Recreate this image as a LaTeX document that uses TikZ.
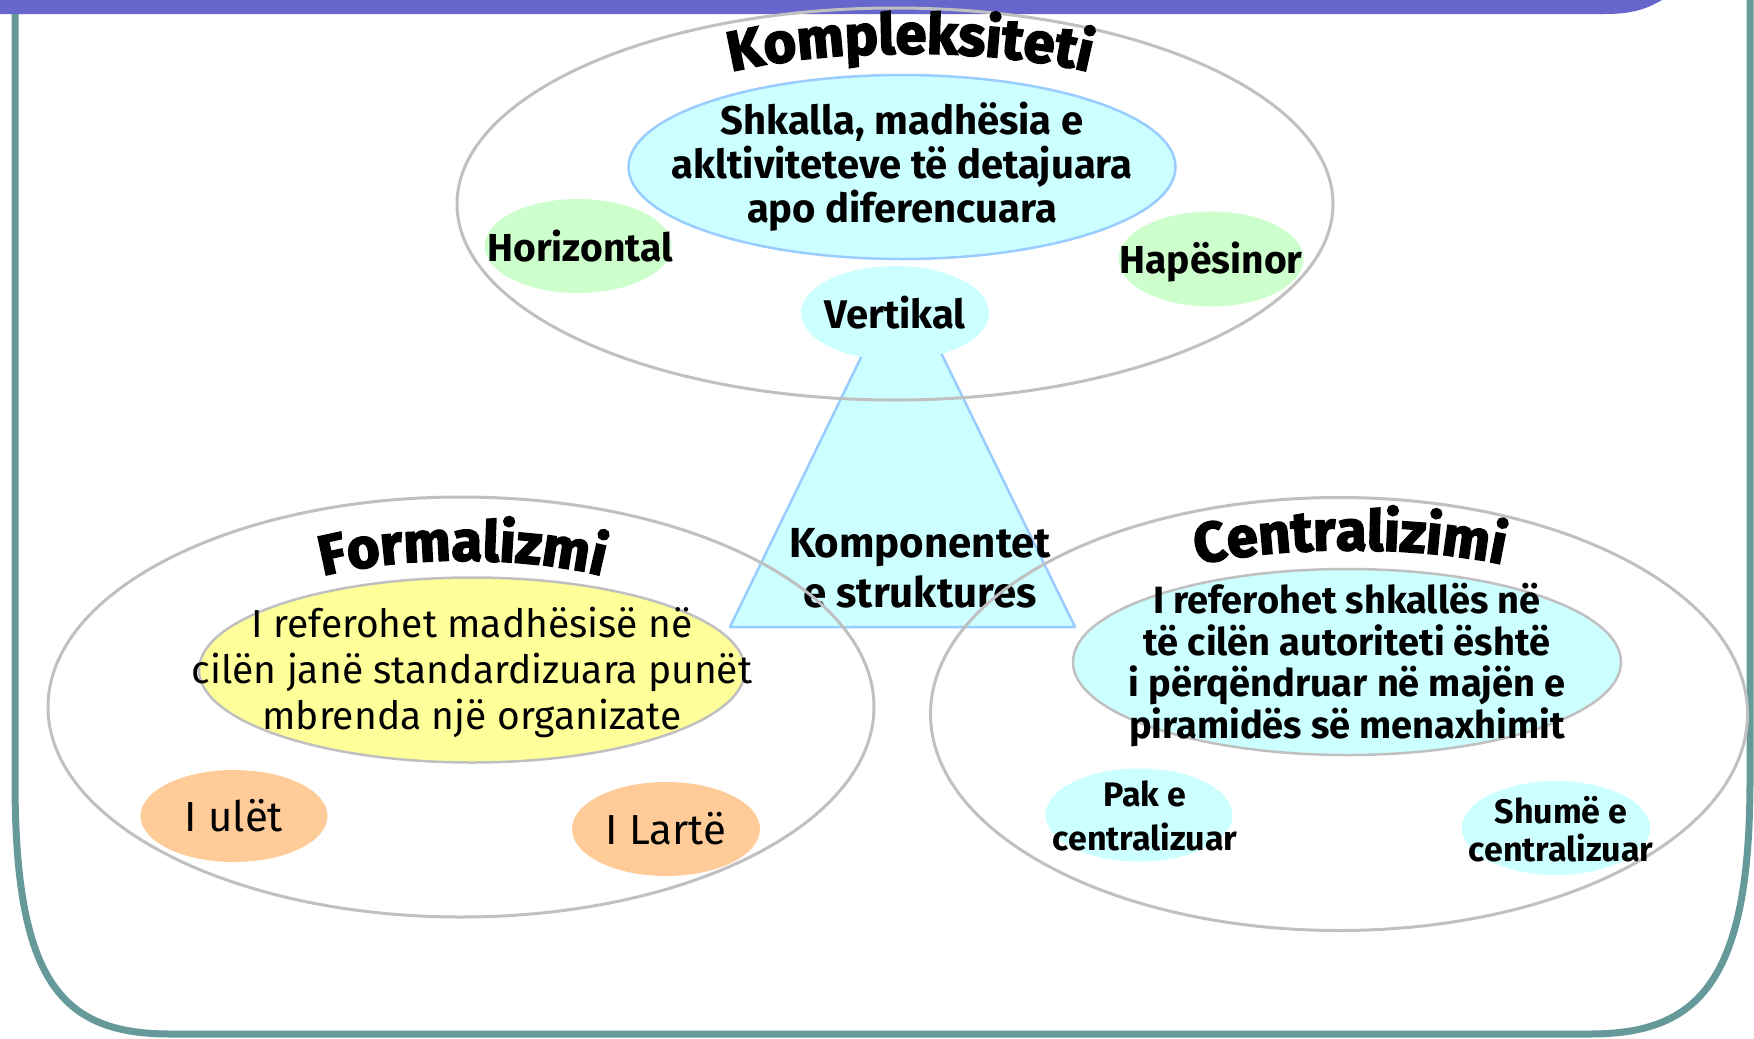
\documentclass[tikz,border=0pt]{standalone}
\usepackage{fontspec}
\setmainfont{Fira Sans}
\newfontfamily\titlefont{Fira Sans Bold}[FakeBold=3]
\usetikzlibrary{shapes.geometric,decorations.text}

\definecolor{barblue}{HTML}{6666CC}
\definecolor{frameteal}{HTML}{669999}
\definecolor{ringgray}{HTML}{C0C0C0}
\definecolor{paleblue}{HTML}{CCFFFF}
\definecolor{edgeblue}{HTML}{99CCFF}
\definecolor{palegreen}{HTML}{CCFFCC}
\definecolor{paleyellow}{HTML}{FFFF99}
\definecolor{paleorange}{HTML}{FFCC99}

\newcommand\ttlfont{\titlefont\fontsize{56pt}{60pt}\selectfont}

\tikzset{
  ring/.style={ellipse, draw=ringgray, line width=3pt, inner sep=0pt},
  blob/.style={ellipse, inner sep=0pt, draw=none},
  bold40/.style={align=center, inner sep=0pt, font=\bfseries\fontsize{40pt}{44pt}\selectfont},
  bold34/.style={align=center, inner sep=0pt, font=\bfseries\fontsize{34pt}{44pt}\selectfont},
  plain40/.style={align=center, inner sep=0pt, font=\fontsize{39pt}{46pt}\selectfont},
  title/.style={decorate, decoration={text along path, text align=center}},
}

\begin{document}
\begin{tikzpicture}[x=1pt, y=-1pt]
\useasboundingbox (0,0) rectangle (1754,1039);

% slide frame and header bar
\draw[frameteal, line width=7pt]
  (15,0) -- (15,780) .. controls (15,980) and (60,1034) .. (170,1034)
  -- (1590,1034) .. controls (1700,1034) and (1750,980) .. (1750,780) -- (1750,0);
\fill[barblue] (0,-5) -- (1662,-5) -- (1662,0) .. controls (1645,10) and (1630,14) .. (1605,14) -- (0,14) -- cycle;

% central pyramid
\coordinate (apex) at (902,273);
\coordinate (baseL) at (730,627);
\coordinate (baseR) at (1075,627);
\filldraw[fill=paleblue, draw=edgeblue, line width=2.5pt, line join=round]
  (apex) -- (baseL) -- (baseR) -- cycle;
\node[bold40, font=\bfseries\fontsize{42pt}{50pt}\selectfont] (komp) at (920,568) {Komponentet\\ e struktures};

% three outer rings
\node[ring, minimum width=876pt, minimum height=392pt] (ringK) at (895,204) {};
\node[ring, minimum width=826pt, minimum height=420pt] (ringF) at (461,707) {};
\node[ring, minimum width=817pt, minimum height=433pt] (ringC) at (1339,714) {};

% Kompleksiteti
\node[blob, fill=paleblue, draw=edgeblue, line width=2.5pt, minimum width=547pt, minimum height=184pt] (shk) at (902,167) {};
\node[bold40] (shkT) at (shk) {Shkalla, madhësia e\\ akltiviteteve të detajuara\\ apo diferencuara};
\node[blob, fill=palegreen, minimum width=187pt, minimum height=94pt] (hor) at (578,246) {};
\node[bold40, font=\bfseries\fontsize{39pt}{44pt}\selectfont] (horT) at (580,246) {Horizontal};
\node[blob, fill=palegreen, minimum width=185pt, minimum height=95pt] (hap) at (1211,259) {};
\node[bold40, font=\bfseries\fontsize{39pt}{44pt}\selectfont] (hapT) at (1211,262) {Hapësinor};
\node[blob, fill=paleblue, minimum width=188pt, minimum height=94pt] (ver) at (895,313) {};
\node[bold40] (verT) at (ver) {Vertikal};

% Formalizmi
\node[blob, fill=paleyellow, draw=ringgray, line width=2.5pt, minimum width=546pt, minimum height=185pt] (form) at (472,670) {};
\node[plain40] (formT) at (472,672) {I referohet madhësisë në\\ cilën janë standardizuara punët\\ mbrenda një organizate};
\node[blob, fill=paleorange, minimum width=187pt, minimum height=92pt] (low) at (234,816) {};
\node[plain40, font=\fontsize{42pt}{46pt}\selectfont] (lowT) at (low) {I ulët};
\node[blob, fill=paleorange, minimum width=188pt, minimum height=94pt] (high) at (666,829) {};
\node[plain40, font=\fontsize{42pt}{46pt}\selectfont] (highT) at (high) {I Lartë};

% Centralizimi
\node[blob, fill=paleblue, draw=ringgray, line width=2.5pt, minimum width=548pt, minimum height=186pt] (cen) at (1347,662) {};
\node[bold40, font=\bfseries\fontsize{38pt}{41.5pt}\selectfont] (cenT) at (1347,665) {I referohet shkallës në\\ të cilën autoriteti është\\ i përqëndruar në majën e\\ piramidës së menaxhimit};
\node[blob, fill=paleblue, minimum width=187pt, minimum height=93pt] (few) at (1139,815) {};
\node[bold34] (fewT) at (1145,816) {Pak e\\ centralizuar};
\node[blob, fill=paleblue, minimum width=188pt, minimum height=94pt] (many) at (1556,828) {};
\node[bold34, font=\bfseries\fontsize{34pt}{38pt}\selectfont] (manyT) at (1561,829) {Shumë e\\ centralizuar};

% arched headings
\path[title, decoration={text={|\ttlfont|Kompleksiteti}}]
  (715,76) .. controls (820,46) and (1000,46) .. (1105,76);
\path[title, decoration={text={|\ttlfont|Formalizmi}}]
  (290,586) .. controls (380,552) and (545,552) .. (635,586);
\path[title, decoration={text={|\ttlfont|Centralizimi}}]
  (1170,571) .. controls (1270,543) and (1430,543) .. (1530,571);
\end{tikzpicture}
\end{document}
